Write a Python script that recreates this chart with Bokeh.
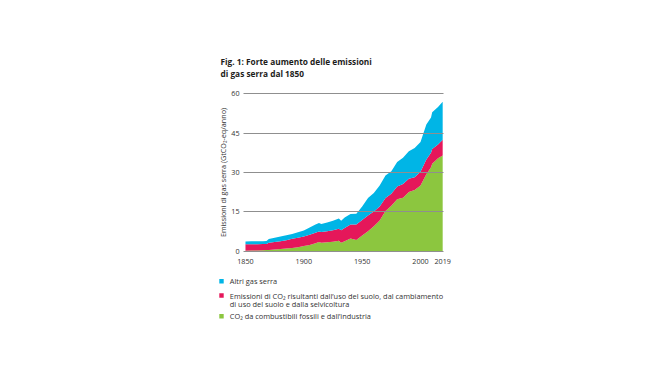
from bokeh.plotting import figure
from bokeh.layouts import column
from bokeh.models import ColumnDataSource, Range1d, FixedTicker, Label
from bokeh.embed import file_html
from bokeh.resources import INLINE

# ---- data (GtCO2-eq / year) ----
years = [1850, 1855, 1860, 1865, 1868, 1870, 1875, 1880, 1885, 1890, 1895, 1900, 1905,
         1910, 1913, 1915, 1920, 1925, 1930, 1932, 1935, 1940, 1945, 1950, 1955, 1960,
         1965, 1970, 1975, 1980, 1985, 1990, 1995, 2000, 2005, 2009, 2010, 2015, 2019]
fossil = [0.2, 0.25, 0.3, 0.4, 0.45, 0.5, 0.65, 0.8, 1.0, 1.2, 1.5, 2.0, 2.4,
          3.0, 3.5, 3.2, 3.4, 3.6, 4.0, 3.2, 3.8, 4.8, 4.3, 6.0, 7.6, 9.5,
          11.7, 15.3, 17.3, 19.8, 20.4, 22.6, 23.3, 25.0, 29.3, 32.0, 33.3, 35.4, 36.5]
land = [2.4, 2.35, 2.3, 2.3, 2.25, 2.7, 2.85, 3.0, 3.2, 3.5, 3.6, 3.6, 3.9,
        4.0, 4.0, 4.1, 4.2, 4.4, 4.6, 4.8, 5.0, 5.4, 5.9, 5.9, 6.0, 5.6,
        5.3, 5.0, 4.6, 4.9, 5.2, 5.0, 4.9, 5.3, 5.7, 5.5, 5.7, 5.3, 6.0]
other = [1.1, 1.2, 1.2, 1.1, 1.2, 1.4, 1.6, 1.8, 1.9, 1.9, 2.1, 2.3, 2.7,
         3.2, 3.2, 3.1, 3.3, 3.6, 3.9, 3.6, 4.0, 4.0, 4.1, 5.1, 6.7, 7.1,
         8.0, 8.6, 8.6, 9.3, 10.0, 10.5, 11.1, 11.3, 13.3, 13.5, 14.0, 14.3, 14.5]

x_ticks = [1850, 1900, 1950, 2000, 2019]
y_ticks = [0, 15, 30, 45, 60]
series_names = ["CO\u2082 da combustibili fossili e dall\u2019industria",
                "Emissioni di CO\u2082 risultanti dall\u2019uso del suolo, dal cambiamento",
                "Altri gas serra"]
land_line2 = "di uso del suolo e dalla selvicoltura"
title_lines = ["Fig. 1: Forte aumento delle emissioni", "di gas serra dal 1850"]
y_label = "Emissioni di gas serra (GtCO\u2082-eq/anno)"

colors = ["#8cc63f", "#e5175a", "#00b5e6"]
font = "Open Sans"
W = 670

# ---------------- title strip (pixel-coordinate canvas) ----------------
TH = 84
t = figure(width=W, height=TH, output_backend="svg", toolbar_location=None,
           x_range=Range1d(0, W), y_range=Range1d(TH, 0),
           x_axis_type=None, y_axis_type=None, frame_align=False,
           min_border=0, min_border_left=0, min_border_right=0,
           min_border_top=0, min_border_bottom=0)
t.outline_line_color = None
t.grid.visible = False
for i, line in enumerate(title_lines):
    t.add_layout(Label(x=220, y=61 + i * 12.3, text=line, text_font=font,
                       text_font_style="bold", text_font_size="8.3px",
                       text_color="#1d1d1b", text_baseline="middle", text_align="left"))

# ---------------- main chart ----------------
LEFT, FW = 243, 200
FTOP, FH = 8, 160          # frame from y=92 to y=252 on the page
MH = 186                   # main figure occupies y=84..270
X0, X1 = 1848.3, 2019.7
Y0, Y1 = -0.5, 60.5

source = ColumnDataSource(data=dict(year=years, fossil=fossil, land=land, other=other))

p = figure(width=W, height=MH, output_backend="svg", toolbar_location=None,
           x_range=Range1d(X0, X1), y_range=Range1d(Y0, Y1),
           frame_width=FW, frame_height=FH, frame_align=False,
           min_border_left=LEFT, min_border_top=FTOP,
           min_border_right=W - LEFT - FW, min_border_bottom=MH - FTOP - FH)
p.outline_line_color = None

p.varea_stack(stackers=["fossil", "land", "other"], x="year", color=colors, source=source)

p.xaxis.ticker = FixedTicker(ticks=x_ticks)
p.yaxis.ticker = FixedTicker(ticks=y_ticks)
for ax in (p.xaxis[0], p.yaxis[0]):
    ax.axis_line_color = None
    ax.major_tick_line_color = None
    ax.minor_tick_line_color = None
    ax.major_tick_out = 0
    ax.major_tick_in = 0
    ax.minor_tick_out = 0
    ax.minor_tick_in = 0
    ax.major_label_text_font = font
    ax.major_label_text_font_size = "7.2px"
    ax.major_label_text_color = "#333333"
p.xaxis.major_label_standoff = 6
p.yaxis.major_label_standoff = 4
p.yaxis.axis_label = y_label
p.yaxis.axis_label_text_font = font
p.yaxis.axis_label_text_font_size = "7.2px"
p.yaxis.axis_label_text_font_style = "normal"
p.yaxis.axis_label_text_color = "#333333"
p.yaxis.axis_label_standoff = 0

p.xgrid.grid_line_color = None
p.ygrid.ticker = FixedTicker(ticks=y_ticks)
p.ygrid.grid_line_color = "#8f8f8f"
p.ygrid.grid_line_width = 1
p.ygrid.level = "overlay"

# ---------------- legend strip (pixel-coordinate canvas) ----------------
LTOP = TH + MH             # 270
LH = 377 - LTOP
lg = figure(width=W, height=LH, output_backend="svg", toolbar_location=None,
            x_range=Range1d(0, W), y_range=Range1d(LH, 0),
            x_axis_type=None, y_axis_type=None, frame_align=False,
            min_border=0, min_border_left=0, min_border_right=0,
            min_border_top=0, min_border_bottom=0)
lg.outline_line_color = None
lg.grid.visible = False

legend_rows = [(280.7 - LTOP, colors[2], [series_names[2]]),
               (295.0 - LTOP, colors[1], [series_names[1], land_line2]),
               (315.7 - LTOP, colors[0], [series_names[0]])]
for cy, c, lines in legend_rows:
    lg.quad(left=218.8, right=223.2, top=cy - 2.2, bottom=cy + 2.2, fill_color=c, line_color=None)
    for j, line in enumerate(lines):
        lg.add_layout(Label(x=229.3, y=cy + j * 8.3, text=line, text_font=font,
                            text_font_size="7.4px", text_color="#333333",
                            text_baseline="middle", text_align="left"))

layout = column(t, p, lg, spacing=0)
open("out.html", "w").write(file_html(layout, INLINE))
